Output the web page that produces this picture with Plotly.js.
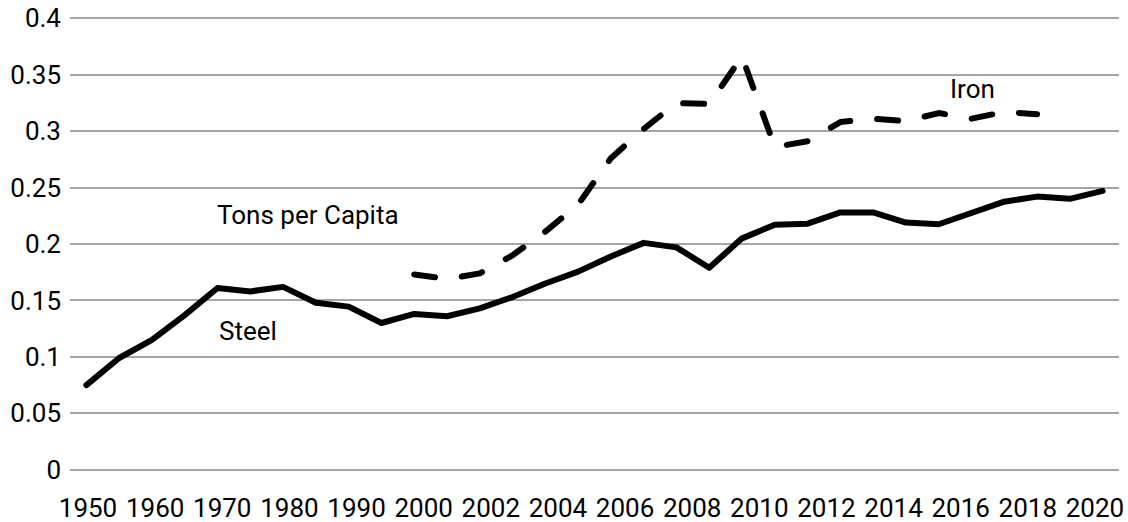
<!DOCTYPE html>
<html>
<head>
<meta charset="utf-8">
<script src="https://cdn.plot.ly/plotly-3.0.1.min.js"></script>
<style>
  html, body { margin: 0; padding: 0; background: #fff; }
  #chart { width: 1128px; height: 522px; }
  .scatterlayer .js-line { stroke-linecap: round; stroke-linejoin: round; }
</style>
</head>
<body>
<div id="chart"></div>
<script>
const years = ['1950','1955','1960','1965','1970','1975','1980','1985','1990','1995',
  '2000','2001','2002','2003','2004','2005','2006','2007','2008','2009','2010',
  '2011','2012','2013','2014','2015','2016','2017','2018','2019','2020','2021'];
const steel = [0.075, 0.099, 0.115, 0.137, 0.161, 0.158, 0.162, 0.148, 0.1445, 0.130,
  0.138, 0.136, 0.143, 0.153, 0.165, 0.1755, 0.189, 0.201, 0.197, 0.179, 0.205,
  0.217, 0.218, 0.228, 0.228, 0.219, 0.2175, 0.228, 0.2375, 0.242, 0.240, 0.247];
const ironYears = ['2000','2001','2002','2003','2004','2005','2006','2007','2008','2009',
  '2010','2011','2012','2013','2014','2015','2016','2017','2018','2019'];
const iron = [0.173, 0.169, 0.174, 0.190, 0.211, 0.235, 0.276, 0.302, 0.325, 0.324,
  0.366, 0.286, 0.291, 0.308, 0.311, 0.309, 0.316, 0.311, 0.317, 0.315];
const tickLabels = ['1950','1960','1970','1980','1990','2000','2002','2004','2006','2008',
  '2010','2012','2014','2016','2018','2020'];
const yTicks = [0, 0.05, 0.1, 0.15, 0.2, 0.25, 0.3, 0.35, 0.4];
const yTickText = ['0','0.05','0.1','0.15','0.2','0.25','0.3','0.35','0.4'];

const font = { family: 'Roboto, sans-serif', size: 26, color: '#000' };
const tickIdx = tickLabels.map((_, i) => i);

const traces = [
  { type: 'scatter', mode: 'lines', name: 'Steel', x: years, y: steel,
    line: { color: '#000', width: 6 }, hoverinfo: 'skip' },
  { type: 'scatter', mode: 'lines', name: 'Iron', x: ironYears, y: iron,
    line: { color: '#000', width: 6, dash: '21px,27px' }, hoverinfo: 'skip' },
  // empty trace so the year-label axis is drawn
  { type: 'scatter', mode: 'lines', x: [], y: [], xaxis: 'x2', yaxis: 'y', hoverinfo: 'skip' }
];

const layout = {
  width: 1128, height: 522,
  margin: { l: 70, r: 9, t: 16, b: 50 },
  paper_bgcolor: '#fff', plot_bgcolor: '#fff',
  showlegend: false,
  font: font,
  xaxis: {
    type: 'category', categoryorder: 'array', categoryarray: years,
    range: [-0.5, years.length - 0.5],
    showticklabels: false,
    showgrid: false, zeroline: false, showline: false, ticks: '',
    automargin: false
  },
  // label axis: the reference's year labels are spaced slightly wider than the data categories
  xaxis2: {
    overlaying: 'x', anchor: 'y', side: 'bottom', type: 'linear',
    range: [-0.268, 15.358],
    tickvals: tickIdx, ticktext: tickLabels,
    showgrid: false, zeroline: false, showline: false, ticks: '',
    tickfont: font, ticklabelstandoff: 18, automargin: false
  },
  yaxis: {
    range: [-0.002, 0.402], tickvals: yTicks, ticktext: yTickText,
    showgrid: true, gridcolor: '#a6a6a6', gridwidth: 2,
    zeroline: true, zerolinecolor: '#a6a6a6', zerolinewidth: 2,
    showline: false, ticks: '',
    tickfont: font, ticklabelstandoff: 8, automargin: false
  },
  annotations: [
    { text: 'Tons per Capita', xref: 'paper', yref: 'paper', x: 0.227, y: 0.564,
      showarrow: false, font: font, xanchor: 'center', yanchor: 'middle' },
    { text: 'Steel', xref: 'paper', yref: 'paper', x: 0.170, y: 0.310,
      showarrow: false, font: font, xanchor: 'center', yanchor: 'middle' },
    { text: 'Iron', xref: 'paper', yref: 'paper', x: 0.860, y: 0.841,
      showarrow: false, font: font, xanchor: 'center', yanchor: 'middle' }
  ]
};

Plotly.newPlot('chart', traces, layout, { staticPlot: true, displayModeBar: false });
</script>
</body>
</html>
